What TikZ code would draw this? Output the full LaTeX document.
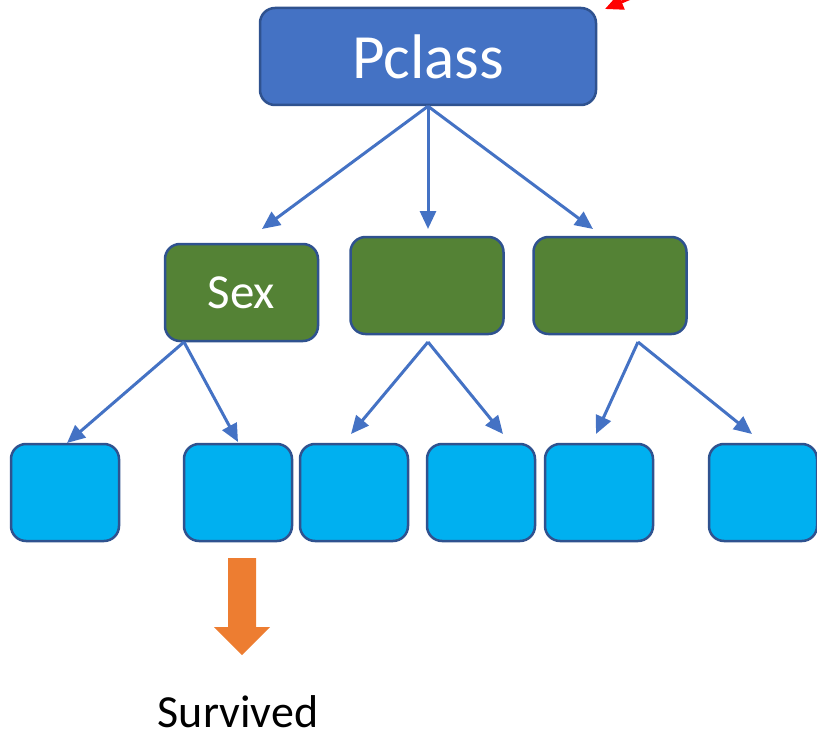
\documentclass[tikz,border=0pt]{standalone}
\usepackage{fontspec}
\setmainfont{Carlito}
\usetikzlibrary{arrows.meta}
\definecolor{topblue}{HTML}{4472C4}
\definecolor{edgeblue}{HTML}{2F528F}
\definecolor{leafgreen}{HTML}{548235}
\definecolor{leafcyan}{HTML}{00B0F0}
\definecolor{outorange}{HTML}{ED7D31}
\tikzset{
  box/.style={draw=edgeblue, line width=2.5pt, rounded corners=15pt, inner sep=0pt},
  rootbox/.style={box, fill=topblue, minimum width=336pt, minimum height=97pt,
    text=white, font=\fontsize{63}{66}\selectfont},
  midbox/.style={box, fill=leafgreen, minimum width=153pt, minimum height=97pt,
    text=white, font=\fontsize{49}{52}\selectfont},
  leafbox/.style={box, fill=leafcyan, minimum width=108pt, minimum height=97pt},
  link/.style={draw=topblue, line width=3pt, -{Triangle[length=18pt,width=16pt]}},
}
\begin{document}
\begin{tikzpicture}[x=1pt,y=-1pt]
\useasboundingbox (0,0) rectangle (817,741);

% tree nodes
\node[rootbox] (root) at (428,56.5) {Pclass};
\node[midbox] (sex) at (241.5,292.5) {Sex};
\node[midbox] (midB) at (427,285.5) {};
\node[midbox] (midC) at (610,285.5) {};
\node[leafbox] (l1) at (65,492.5) {};
\node[leafbox] (l2) at (238,492.5) {};
\node[leafbox] (l3) at (354,492.5) {};
\node[leafbox] (l4) at (481,492.5) {};
\node[leafbox] (l5) at (599,492.5) {};
\node[leafbox] (l6) at (763,492.5) {};

% arrow tips
\coordinate (tA) at (262,229);
\coordinate (tB) at (428,229);
\coordinate (tC) at (593,229);
\coordinate (t1) at (67,443);
\coordinate (t2) at (238,442);
\coordinate (t3) at (351,434);
\coordinate (t4) at (503,434);
\coordinate (t5) at (596,434);
\coordinate (t6) at (752,434);
\coordinate (sB) at (428,342);
\coordinate (sC) at (638,342);
\coordinate (sA) at (184,342);

% connectors
\draw[link] (root.south) -- (tA);
\draw[link] (root.south) -- (tB);
\draw[link] (root.south) -- (tC);
\draw[link] (sA) -- (t1);
\draw[link] (sA) -- (t2);
\draw[link] (sB) -- (t3);
\draw[link] (sB) -- (t4);
\draw[link] (sC) -- (t5);
\draw[link] (sC) -- (t6);

% red pointer at the corner
\coordinate (rp0) at (645,-8);
\coordinate (rp1) at (605,9);
\draw[red, line width=3pt, -{Triangle[length=18pt,width=16pt]}] (rp0) -- (rp1);

% block arrow to the outcome
\fill[outorange] (228,558) -- (256,558) -- (256,627) -- (270,627) -- (242,655)
  -- (214,627) -- (228,627) -- cycle;
\node[font=\fontsize{46}{50}\selectfont, anchor=base, inner sep=0pt] (out) at (238,727) {Survived};
\end{tikzpicture}
\end{document}
